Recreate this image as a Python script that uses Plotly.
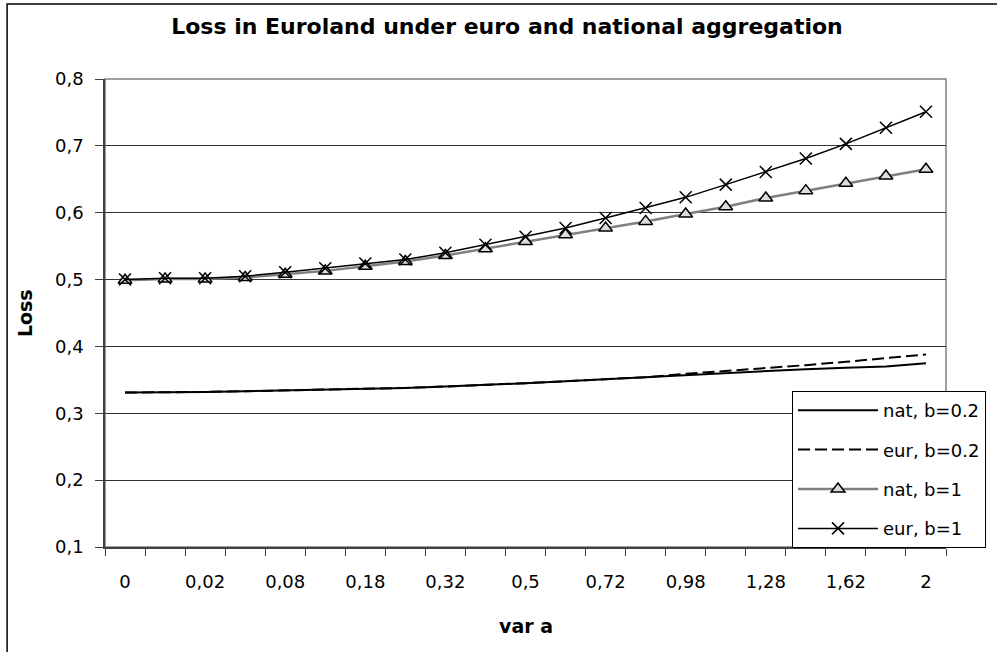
import plotly.graph_objects as go

# var a categories (every other one is labelled on the axis)
categories = ["0", "0,005", "0,02", "0,045", "0,08", "0,125", "0,18", "0,245",
              "0,32", "0,405", "0,5", "0,605", "0,72", "0,845", "0,98", "1,125",
              "1,28", "1,445", "1,62", "1,805", "2"]
tick_labels = [c if i % 2 == 0 else "" for i, c in enumerate(categories)]

nat_b02 = [0.331, 0.331, 0.332, 0.333, 0.334, 0.335, 0.336, 0.338, 0.340, 0.342,
           0.345, 0.348, 0.351, 0.354, 0.358, 0.361, 0.364, 0.366, 0.368, 0.370, 0.375]
eur_b02 = [0.331, 0.331, 0.332, 0.333, 0.334, 0.335, 0.336, 0.338, 0.340, 0.342,
           0.345, 0.348, 0.351, 0.354, 0.359, 0.363, 0.367, 0.372, 0.377, 0.382, 0.388]
nat_b1 = [0.499, 0.501, 0.501, 0.503, 0.508, 0.513, 0.520, 0.527, 0.536, 0.546,
          0.557, 0.567, 0.577, 0.587, 0.598, 0.609, 0.622, 0.633, 0.644, 0.655, 0.665]
eur_b1 = [0.500, 0.502, 0.502, 0.505, 0.511, 0.517, 0.524, 0.530, 0.540, 0.552,
          0.564, 0.577, 0.592, 0.607, 0.623, 0.642, 0.661, 0.681, 0.703, 0.727, 0.751]

y_ticks = [0.1, 0.2, 0.3, 0.4, 0.5, 0.6, 0.7, 0.8]

FONT = "DejaVu Sans"

fig = go.Figure()
fig.add_trace(go.Scatter(
    x=categories, y=nat_b02, name="nat, b=0.2", mode="lines",
    line=dict(color="black", width=2), legendgroup="g1"))
fig.add_trace(go.Scatter(
    x=categories, y=eur_b02, name="eur, b=0.2", mode="lines",
    line=dict(color="black", width=2, dash="12px,5px"), legendgroup="g2"))
fig.add_trace(go.Scatter(
    x=categories, y=nat_b1, name="nat, b=1", mode="lines+markers",
    line=dict(color="#808080", width=2.5),
    marker=dict(symbol="triangle-up", size=12, color="#dcdcdc",
                line=dict(color="black", width=1.5)),
    legendgroup="g3"))
fig.add_trace(go.Scatter(
    x=categories, y=eur_b1, name="eur, b=1", mode="lines+markers",
    line=dict(color="black", width=1.5),
    marker=dict(symbol="x-thin", size=12, color="black",
                line=dict(color="black", width=1.5)),
    legendgroup="g4"))

fig.update_layout(
    width=997, height=652,
    margin=dict(l=105, r=50, t=79, b=105),
    paper_bgcolor="white", plot_bgcolor="white",
    separators=", ",
    font=dict(family=FONT, color="black", size=18),
    title=dict(text="<b>Loss in Euroland under euro and national aggregation</b>",
               font=dict(family=FONT, size=22, color="black"),
               x=507 / 997, xref="container", xanchor="center",
               y=1 - 26 / 652, yref="container", yanchor="middle"),
    showlegend=True,
    legend=dict(x=(792 - 105) / 842, xanchor="left",
                y=(547 - 391) / 468, yanchor="top",
                bgcolor="white", bordercolor="black", borderwidth=1,
                font=dict(family=FONT, size=18, color="black"),
                traceorder="grouped", tracegroupgap=13, itemwidth=80),
    xaxis=dict(type="category", categoryorder="array", categoryarray=categories,
               range=[-0.5, len(categories) - 0.5],
               tickmode="array", tickvals=categories, ticktext=tick_labels,
               tickson="boundaries", ticks="outside", ticklen=7,
               tickcolor="#404040", tickwidth=1, tickangle=0,
               ticklabelstandoff=18,
               showline=True, linecolor="#404040", linewidth=1.5,
               showgrid=False, zeroline=False,
               tickfont=dict(family=FONT, size=18, color="black")),
    yaxis=dict(range=[0.1, 0.8], tickmode="array", tickvals=y_ticks,
               tickformat=".1f", ticks="outside", ticklen=8,
               tickcolor="#404040", tickwidth=1,
               showline=True, linecolor="#404040", linewidth=1.5,
               showgrid=True, gridcolor="#333333", gridwidth=1,
               zeroline=False, ticklabelstandoff=8,
               tickfont=dict(family=FONT, size=18, color="black")),
    annotations=[
        dict(text="<b>Loss</b>", textangle=-90, xref="paper", yref="paper",
             x=(25 - 105) / 842, y=0.5, xanchor="center", yanchor="middle",
             showarrow=False, font=dict(family=FONT, size=19, color="black")),
        dict(text="<b>var a</b>", xref="paper", yref="paper",
             x=0.5, y=(547 - 626) / 468, xanchor="center", yanchor="middle",
             showarrow=False, font=dict(family=FONT, size=19, color="black")),
    ],
    shapes=[
        # plot area frame
        dict(type="rect", xref="paper", yref="paper", x0=0, y0=0, x1=1, y1=1,
             line=dict(color="#808080", width=1.5), layer="below"),
        # chart area frame
        dict(type="rect", xref="paper", yref="paper",
             x0=(7 - 105) / 842, y0=(547 - 660) / 468,
             x1=(1005 - 105) / 842, y1=(547 - 4) / 468,
             line=dict(color="black", width=1.5), layer="below"),
    ],
)

fig.write_html("out.html")
